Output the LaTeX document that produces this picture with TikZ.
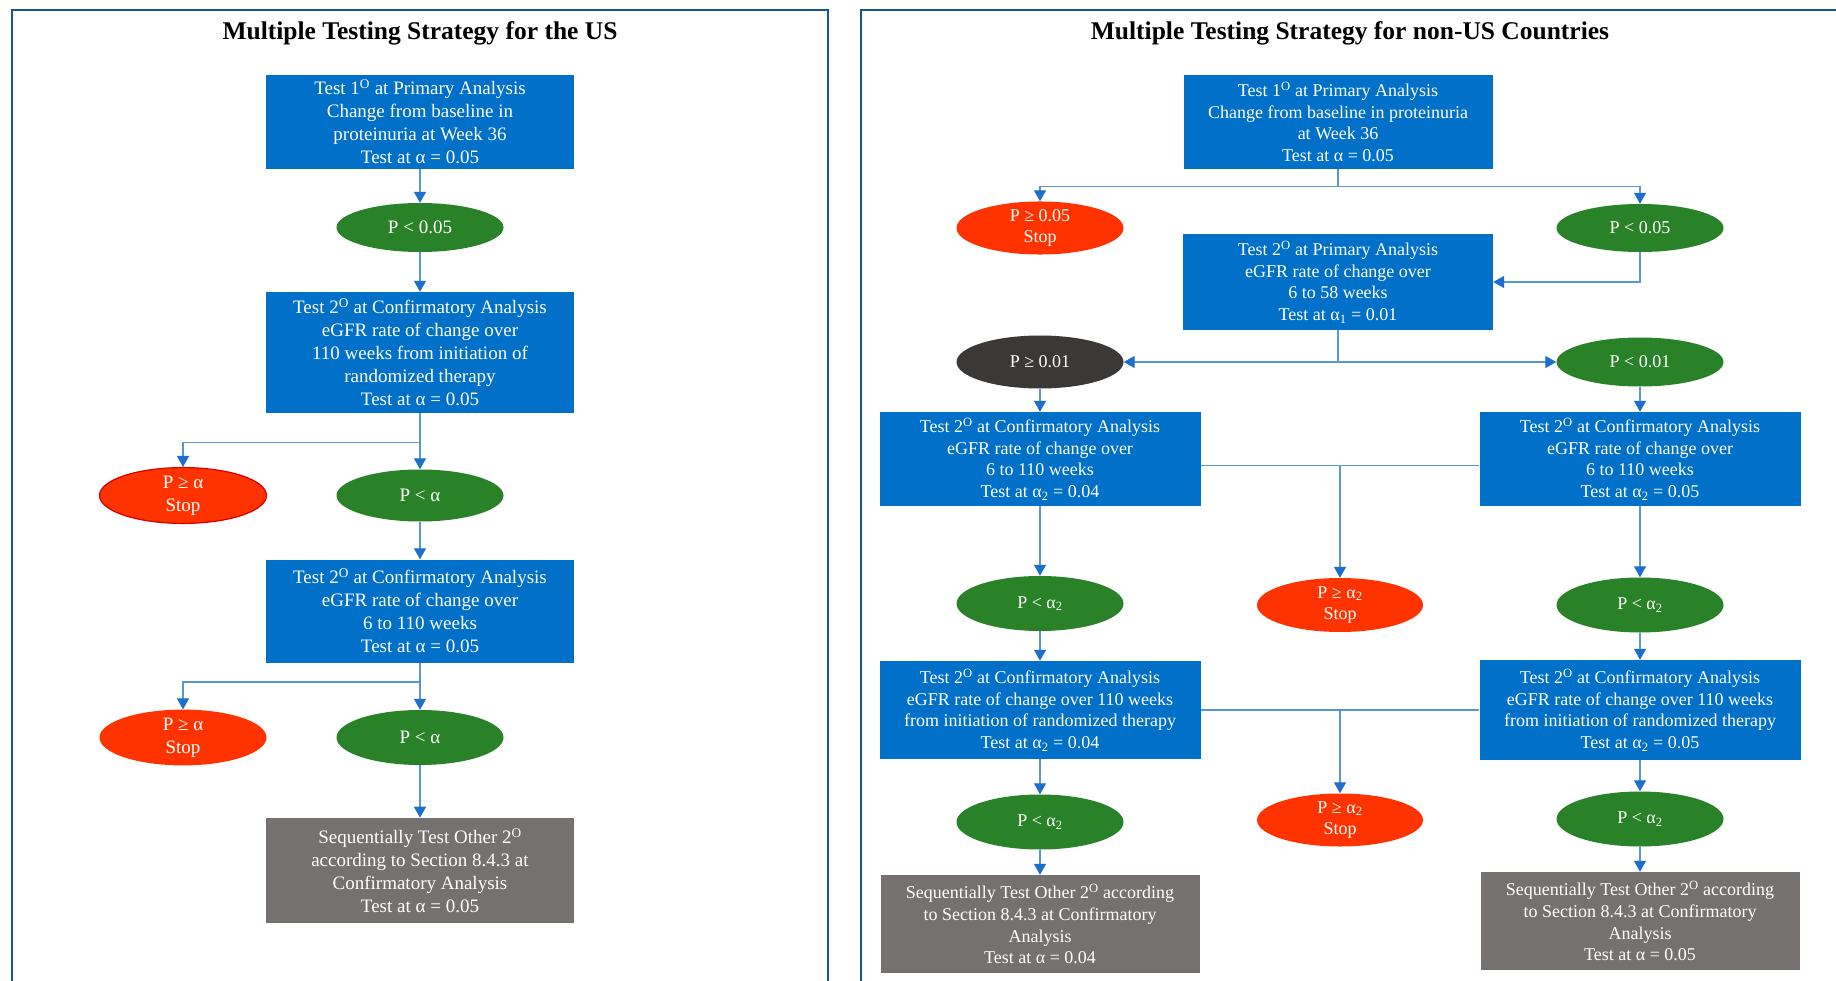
\documentclass[tikz,border=0pt]{standalone}
\usepackage{fontspec}
\setmainfont{Liberation Serif}
\usetikzlibrary{shapes.geometric,arrows.meta}

\definecolor{boxblue}{RGB}{0,112,200}
\definecolor{okgreen}{RGB}{42,130,40}
\definecolor{stopred}{RGB}{255,51,0}
\definecolor{seqgray}{RGB}{118,113,113}
\definecolor{darkoval}{RGB}{59,56,56}
\definecolor{frameblue}{RGB}{24,84,150}
\definecolor{linkblue}{RGB}{90,150,212}
\definecolor{tipblue}{RGB}{30,110,205}

\newcommand{\sO}{\textsuperscript{O}}
\newcommand{\aII}{α\textsubscript{2}}

\begin{document}
\begin{tikzpicture}[x=1pt,y=-1pt,
    boxsize/.style 2 args={minimum width=#1pt, minimum height=#2pt},
    testbox/.style={rectangle, fill=boxblue, text=white, align=center, inner sep=0pt},
    seqbox/.style={testbox, fill=seqgray},
    oval/.style={ellipse, text=white, align=center, inner sep=0pt, boxsize={167}{52}},
    pass/.style={oval, fill=okgreen},
    stop/.style={oval, fill=stopred},
    link/.style={draw=linkblue, line width=1.2pt, -{Triangle[width=12pt,length=11pt,color=tipblue]}},
    line/.style={draw=linkblue, line width=1.2pt},
    usfont/.style={font=\fontsize{19}{23}\selectfont},
    nufont/.style={font=\fontsize{18}{21.7}\selectfont},
    title/.style={font=\bfseries\fontsize{25.5}{30}\selectfont}]
    \useasboundingbox (0,0) rectangle (1836,981);
    \clip (0,0) rectangle (1836,981);
    \fill[white] (0,0) rectangle (1836,981);

    % Left panel: strategy for the US
    \begin{scope}[usfont]
        \draw[frameblue, line width=2pt] (12,10) rectangle (828,1000);
        \node[title] (usTitle) at (420,33) {Multiple Testing Strategy for the US};

        \node[testbox, boxsize={308}{94}] (usT1) at (420,121.7)
            {Test 1\sO{} at Primary  Analysis\\Change from baseline in\\proteinuria  at Week 36\\Test at α = 0.05};
        \node[pass, boxsize={167}{49}] (usP1) at (420,227.5) {P < 0.05};
        \node[testbox, boxsize={308}{121}] (usT2) at (420,352.5)
            {Test 2\sO{} at Confirmatory  Analysis\\eGFR rate of change over\\110 weeks from initiation  of\\randomized therapy\\Test at α = 0.05};
        \node[stop, draw=red!85!black, line width=1.2pt] (usS2) at (183,495.5) {P ≥ α\\Stop};
        \node[pass] (usP2) at (420,495.5) {P < α};
        \node[testbox, boxsize={308}{103}] (usT3) at (420,611)
            {Test 2\sO{} at Confirmatory  Analysis\\eGFR rate of change over\\6 to 110 weeks\\Test at α = 0.05};
        \node[stop, boxsize={167}{55}] (usS3) at (183,737.5) {P ≥ α\\Stop};
        \node[pass, boxsize={167}{55}] (usP3) at (420,737.5) {P < α};
        \node[seqbox, boxsize={308}{105}] (usSeq) at (420,870.4)
            {Sequentially  Test Other 2\sO\\according to Section 8.4.3 at\\Confirmatory  Analysis\\Test at α = 0.05};

        \draw[link] (usT1) -- (usP1);
        \draw[link] (usP1) -- (usT2);
        \draw[link] (usT2.south) -- ++(0,29) -| (usS2.north);
        \draw[link] (usT2) -- (usP2);
        \draw[link] (usP2) -- (usT3);
        \draw[link] (usT3.south) -- ++(0,19.3) -| (usS3.north);
        \draw[link] (usT3) -- (usP3);
        \draw[link] (usP3) -- (usSeq);
    \end{scope}

    % Right panel: strategy for non-US countries
    \begin{scope}[nufont]
        \draw[frameblue, line width=2pt] (861,10) rectangle (1850,1000);
        \node[title] (nuTitle) at (1350,33) {Multiple Testing Strategy for non-US Countries};

        % Primary analysis
        \node[testbox, boxsize={309}{94}] (nuT1) at (1338,121.7)
            {Test 1\sO{} at Primary Analysis\\Change from baseline in proteinuria\\at Week 36\\Test at α = 0.05};
        \node[stop, boxsize={167}{48}] (nuS1) at (1040,228) {P ≥ 0.05\\Stop};
        \node[pass, boxsize={167}{48}] (nuP1) at (1640,228) {P < 0.05};
        \node[testbox, boxsize={310}{96}] (nuT2) at (1338,282)
            {Test 2\sO{} at Primary Analysis\\eGFR rate of change over\\6 to 58 weeks\\Test at α\textsubscript{1} = 0.01};
        \node[oval, fill=darkoval, boxsize={167}{53}] (nuN2) at (1040,362) {P ≥ 0.01};
        \node[pass, boxsize={167}{49}] (nuP2) at (1640,362) {P < 0.01};

        \draw[link] (nuT1.south) -- ++(0,18) -| (nuS1.north);
        \draw[link] (nuT1.south) -- ++(0,18) -| (nuP1.north);
        \draw[link] (nuP1.south) |- (nuT2.east);
        \draw[link] (nuT2.south) |- (nuN2.east);
        \draw[link] (nuT2.south) |- (nuP2.west);

        % Confirmatory analysis, 6 to 110 weeks
        \node[testbox, boxsize={321}{94}] (nuT3a) at (1040,459)
            {Test 2\sO{} at Confirmatory Analysis\\eGFR rate of change over\\6 to 110 weeks\\Test at \aII{} = 0.04};
        \node[testbox, boxsize={321}{94}] (nuT3b) at (1640,459)
            {Test 2\sO{} at Confirmatory Analysis\\eGFR rate of change over\\6 to 110 weeks\\Test at \aII{} = 0.05};
        \node[pass, boxsize={167}{55}] (nuP3a) at (1040,603.5) {P < \aII};
        \node[stop, boxsize={166}{54}] (nuS3) at (1340,605) {P ≥ \aII\\Stop};
        \node[pass, boxsize={167}{55}] (nuP3b) at (1640,605) {P < \aII};
        \coordinate (nuJ3) at (1340,465.7);

        \draw[link] (nuN2) -- (nuT3a);
        \draw[link] (nuP2) -- (nuT3b);
        \draw[line] (nuT3a.east |- nuJ3) -- (nuT3b.west |- nuJ3);
        \draw[link] (nuJ3) -- (nuS3.north);
        \draw[link] (nuT3a) -- (nuP3a);
        \draw[link] (nuT3b) -- (nuP3b);

        % Confirmatory analysis, 110 weeks
        \node[testbox, boxsize={321}{98}] (nuT4a) at (1040,710)
            {Test 2\sO{} at Confirmatory Analysis\\eGFR rate of change over 110 weeks\\from initiation  of randomized therapy\\Test at \aII{} = 0.04};
        \node[testbox, boxsize={321}{100}] (nuT4b) at (1640,710)
            {Test 2\sO{} at Confirmatory Analysis\\eGFR rate of change over 110 weeks\\from initiation  of randomized therapy\\Test at \aII{} = 0.05};
        \node[pass, boxsize={167}{55}] (nuP4a) at (1040,822) {P < \aII};
        \node[stop, boxsize={166}{53}] (nuS4) at (1340,820) {P ≥ \aII\\Stop};
        \node[pass, boxsize={167}{55}] (nuP4b) at (1640,819) {P < \aII};
        \node[seqbox, boxsize={319}{98}] (nuSeqA) at (1040,924)
            {Sequentially  Test Other 2\sO{} according\\to Section 8.4.3 at Confirmatory\\Analysis\\Test at α = 0.04};
        \node[seqbox, boxsize={319}{98}] (nuSeqB) at (1640,921)
            {Sequentially  Test Other 2\sO{} according\\to Section 8.4.3 at Confirmatory\\Analysis\\Test at α = 0.05};
        \coordinate (nuJ4) at (1340,710);

        \draw[link] (nuP3a) -- (nuT4a);
        \draw[link] (nuP3b) -- (nuT4b);
        \draw[line] (nuT4a.east) -- (nuT4b.west);
        \draw[link] (nuJ4) -- (nuS4.north);
        \draw[link] (nuT4a) -- (nuP4a);
        \draw[link] (nuT4b) -- (nuP4b);
        \draw[link] (nuP4a) -- (nuSeqA);
        \draw[link] (nuP4b) -- (nuSeqB);
    \end{scope}
\end{tikzpicture}
\end{document}
